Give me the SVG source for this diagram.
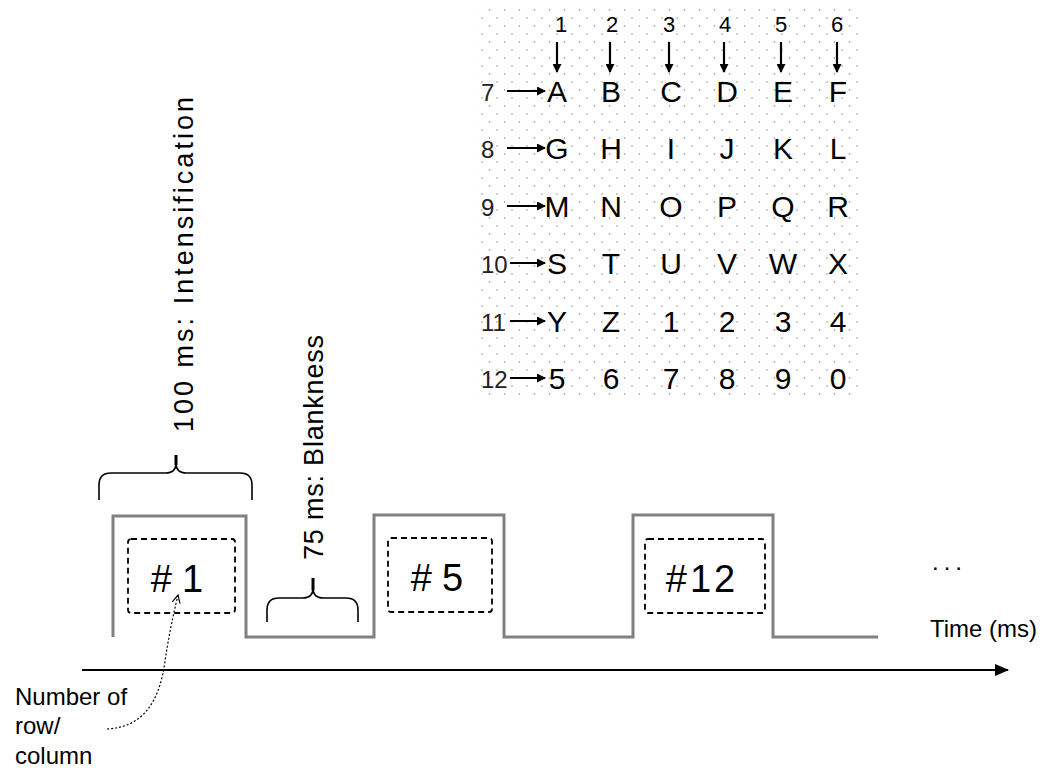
<svg xmlns="http://www.w3.org/2000/svg" width="1045" height="770" viewBox="0 0 1045 770">
<style>
text{font-family:"Liberation Sans",Arial,sans-serif;fill:#000}
.col{font-size:22px;text-anchor:middle}
.row{font-size:24px;fill:#222}
.let{font-size:30px;text-anchor:middle}
.lbl{font-size:24px}
.vl{font-size:27px}
.big{font-size:38px;text-anchor:middle}
.ar{stroke:#000;stroke-width:2.2;fill:none}
.brace{stroke:#000;stroke-width:1.6;fill:none}
.dash{stroke:#000;stroke-width:1.8;fill:none;stroke-dasharray:6,4}
</style>
<defs>
<pattern id="dots" width="15" height="16" patternUnits="userSpaceOnUse">
<circle cx="2" cy="2" r="0.75" fill="#888"/>
<circle cx="9.5" cy="10" r="0.75" fill="#888"/>
</pattern>
<marker id="ah" markerWidth="9" markerHeight="9" refX="8" refY="4.5" orient="auto" markerUnits="userSpaceOnUse">
<path d="M0,0 L9,4.5 L0,9 Z" fill="#000"/>
</marker>
<marker id="axh" markerWidth="14" markerHeight="12" refX="13" refY="6" orient="auto" markerUnits="userSpaceOnUse">
<path d="M0,0 L14,6 L0,12 Z" fill="#000"/>
</marker>
<marker id="open" markerWidth="10" markerHeight="10" refX="8" refY="5" orient="auto" markerUnits="userSpaceOnUse">
<path d="M0,1 L8,5 L0,9" fill="none" stroke="#000" stroke-width="1.2"/>
</marker>
</defs>
<rect width="1045" height="770" fill="#fff"/>

<g id="matrix">
<rect x="475" y="3" width="385" height="392" fill="url(#dots)"/>
<g id="col-numbers">
<text class="col" x="561" y="32">1</text>
<text class="col" x="612" y="32">2</text>
<text class="col" x="669" y="32">3</text>
<text class="col" x="725" y="32">4</text>
<text class="col" x="781" y="32">5</text>
<text class="col" x="837" y="32">6</text>
</g>
<g id="row-numbers">
<text class="row" x="481" y="101">7</text>
<text class="row" x="481" y="158">8</text>
<text class="row" x="481" y="216">9</text>
<text class="row" x="481" y="273">10</text>
<text class="row" x="481" y="331">11</text>
<text class="row" x="481" y="388">12</text>
</g>
<g id="letters">
<text class="let" x="557" y="102">A</text><text class="let" x="611" y="102">B</text><text class="let" x="671" y="102">C</text><text class="let" x="727" y="102">D</text><text class="let" x="783" y="102">E</text><text class="let" x="838" y="102">F</text>
<text class="let" x="557" y="159">G</text><text class="let" x="611" y="159">H</text><text class="let" x="671" y="159">I</text><text class="let" x="727" y="159">J</text><text class="let" x="783" y="159">K</text><text class="let" x="838" y="159">L</text>
<text class="let" x="557" y="217">M</text><text class="let" x="611" y="217">N</text><text class="let" x="671" y="217">O</text><text class="let" x="727" y="217">P</text><text class="let" x="783" y="217">Q</text><text class="let" x="838" y="217">R</text>
<text class="let" x="557" y="274">S</text><text class="let" x="611" y="274">T</text><text class="let" x="671" y="274">U</text><text class="let" x="727" y="274">V</text><text class="let" x="783" y="274">W</text><text class="let" x="838" y="274">X</text>
<text class="let" x="557" y="332">Y</text><text class="let" x="611" y="332">Z</text><text class="let" x="671" y="332">1</text><text class="let" x="727" y="332">2</text><text class="let" x="783" y="332">3</text><text class="let" x="838" y="332">4</text>
<text class="let" x="557" y="389">5</text><text class="let" x="611" y="389">6</text><text class="let" x="671" y="389">7</text><text class="let" x="727" y="389">8</text><text class="let" x="783" y="389">9</text><text class="let" x="838" y="389">0</text>
</g>
</g>

<g id="connectors">
<line class="ar" x1="557" y1="42" x2="557" y2="72" marker-end="url(#ah)"/>
<line class="ar" x1="610" y1="42" x2="610" y2="72" marker-end="url(#ah)"/>
<line class="ar" x1="669" y1="42" x2="669" y2="72" marker-end="url(#ah)"/>
<line class="ar" x1="724" y1="42" x2="724" y2="72" marker-end="url(#ah)"/>
<line class="ar" x1="781" y1="42" x2="781" y2="72" marker-end="url(#ah)"/>
<line class="ar" x1="837" y1="42" x2="837" y2="72" marker-end="url(#ah)"/>
<line class="ar" x1="507" y1="91" x2="545" y2="91" marker-end="url(#ah)"/>
<line class="ar" x1="507" y1="148" x2="545" y2="148" marker-end="url(#ah)"/>
<line class="ar" x1="507" y1="206" x2="545" y2="206" marker-end="url(#ah)"/>
<line class="ar" x1="510" y1="263" x2="545" y2="263" marker-end="url(#ah)"/>
<line class="ar" x1="510" y1="321" x2="545" y2="321" marker-end="url(#ah)"/>
<line class="ar" x1="510" y1="378" x2="545" y2="378" marker-end="url(#ah)"/>
<line x1="82" y1="670" x2="1008" y2="670" stroke="#000" stroke-width="2" marker-end="url(#axh)"/>
<path d="M107,729 C145,727 158,700 164,668 C168,640 172,620 178,595" fill="none" stroke="#000" stroke-width="1.2" stroke-dasharray="2,2" marker-end="url(#open)"/>
</g>

<g id="pulses">
<path d="M113,637 V516 H246 V637 H374 V515 H504 V637 H633 V515 H773 V637 H878" fill="none" stroke="#808080" stroke-width="3"/>
</g>

<g id="box1">
<rect class="dash" x="128" y="539" width="107" height="74" rx="3"/>
<text class="big" x="177" y="592">#<tspan dx="10">1</tspan></text>
</g>
<g id="box2">
<rect class="dash" x="388" y="538" width="104" height="74" rx="3"/>
<text class="big" x="437" y="591">#<tspan dx="10">5</tspan></text>
</g>
<g id="box3">
<rect class="dash" x="645" y="539" width="120" height="74" rx="3"/>
<text class="big" x="702" y="592" letter-spacing="3">#12</text>
</g>

<g id="brace-intensification">
<path class="brace" d="M99,500 V485 Q99,473 111,473 H166 Q176,473 176,463 V455 M176,463 Q176,473 186,473 H240 Q252,473 252,485 V500"/>
<line x1="176" y1="455" x2="176" y2="465" stroke="#000" stroke-width="3"/>
<text class="vl" transform="translate(193,432) rotate(-90)" textLength="335" lengthAdjust="spacing">100 ms: Intensification</text>
</g>
<g id="brace-blankness">
<path class="brace" d="M267,622 V610 Q267,598 279,598 H303 Q313,598 313,588 V578 M313,588 Q313,598 323,598 H346 Q358,598 358,610 V622"/>
<line x1="313" y1="578" x2="313" y2="590" stroke="#000" stroke-width="3"/>
<text class="vl" transform="translate(323,560) rotate(-90)" textLength="225" lengthAdjust="spacing">75 ms: Blankness</text>
</g>

<g id="labels">
<text class="lbl" x="932" y="570" letter-spacing="5">...</text>
<text class="lbl" x="930" y="637">Time (ms)</text>
<text class="lbl" x="15" y="705">Number of</text>
<text class="lbl" x="15" y="734">row/</text>
<text class="lbl" x="15" y="764">column</text>
</g>
</svg>
